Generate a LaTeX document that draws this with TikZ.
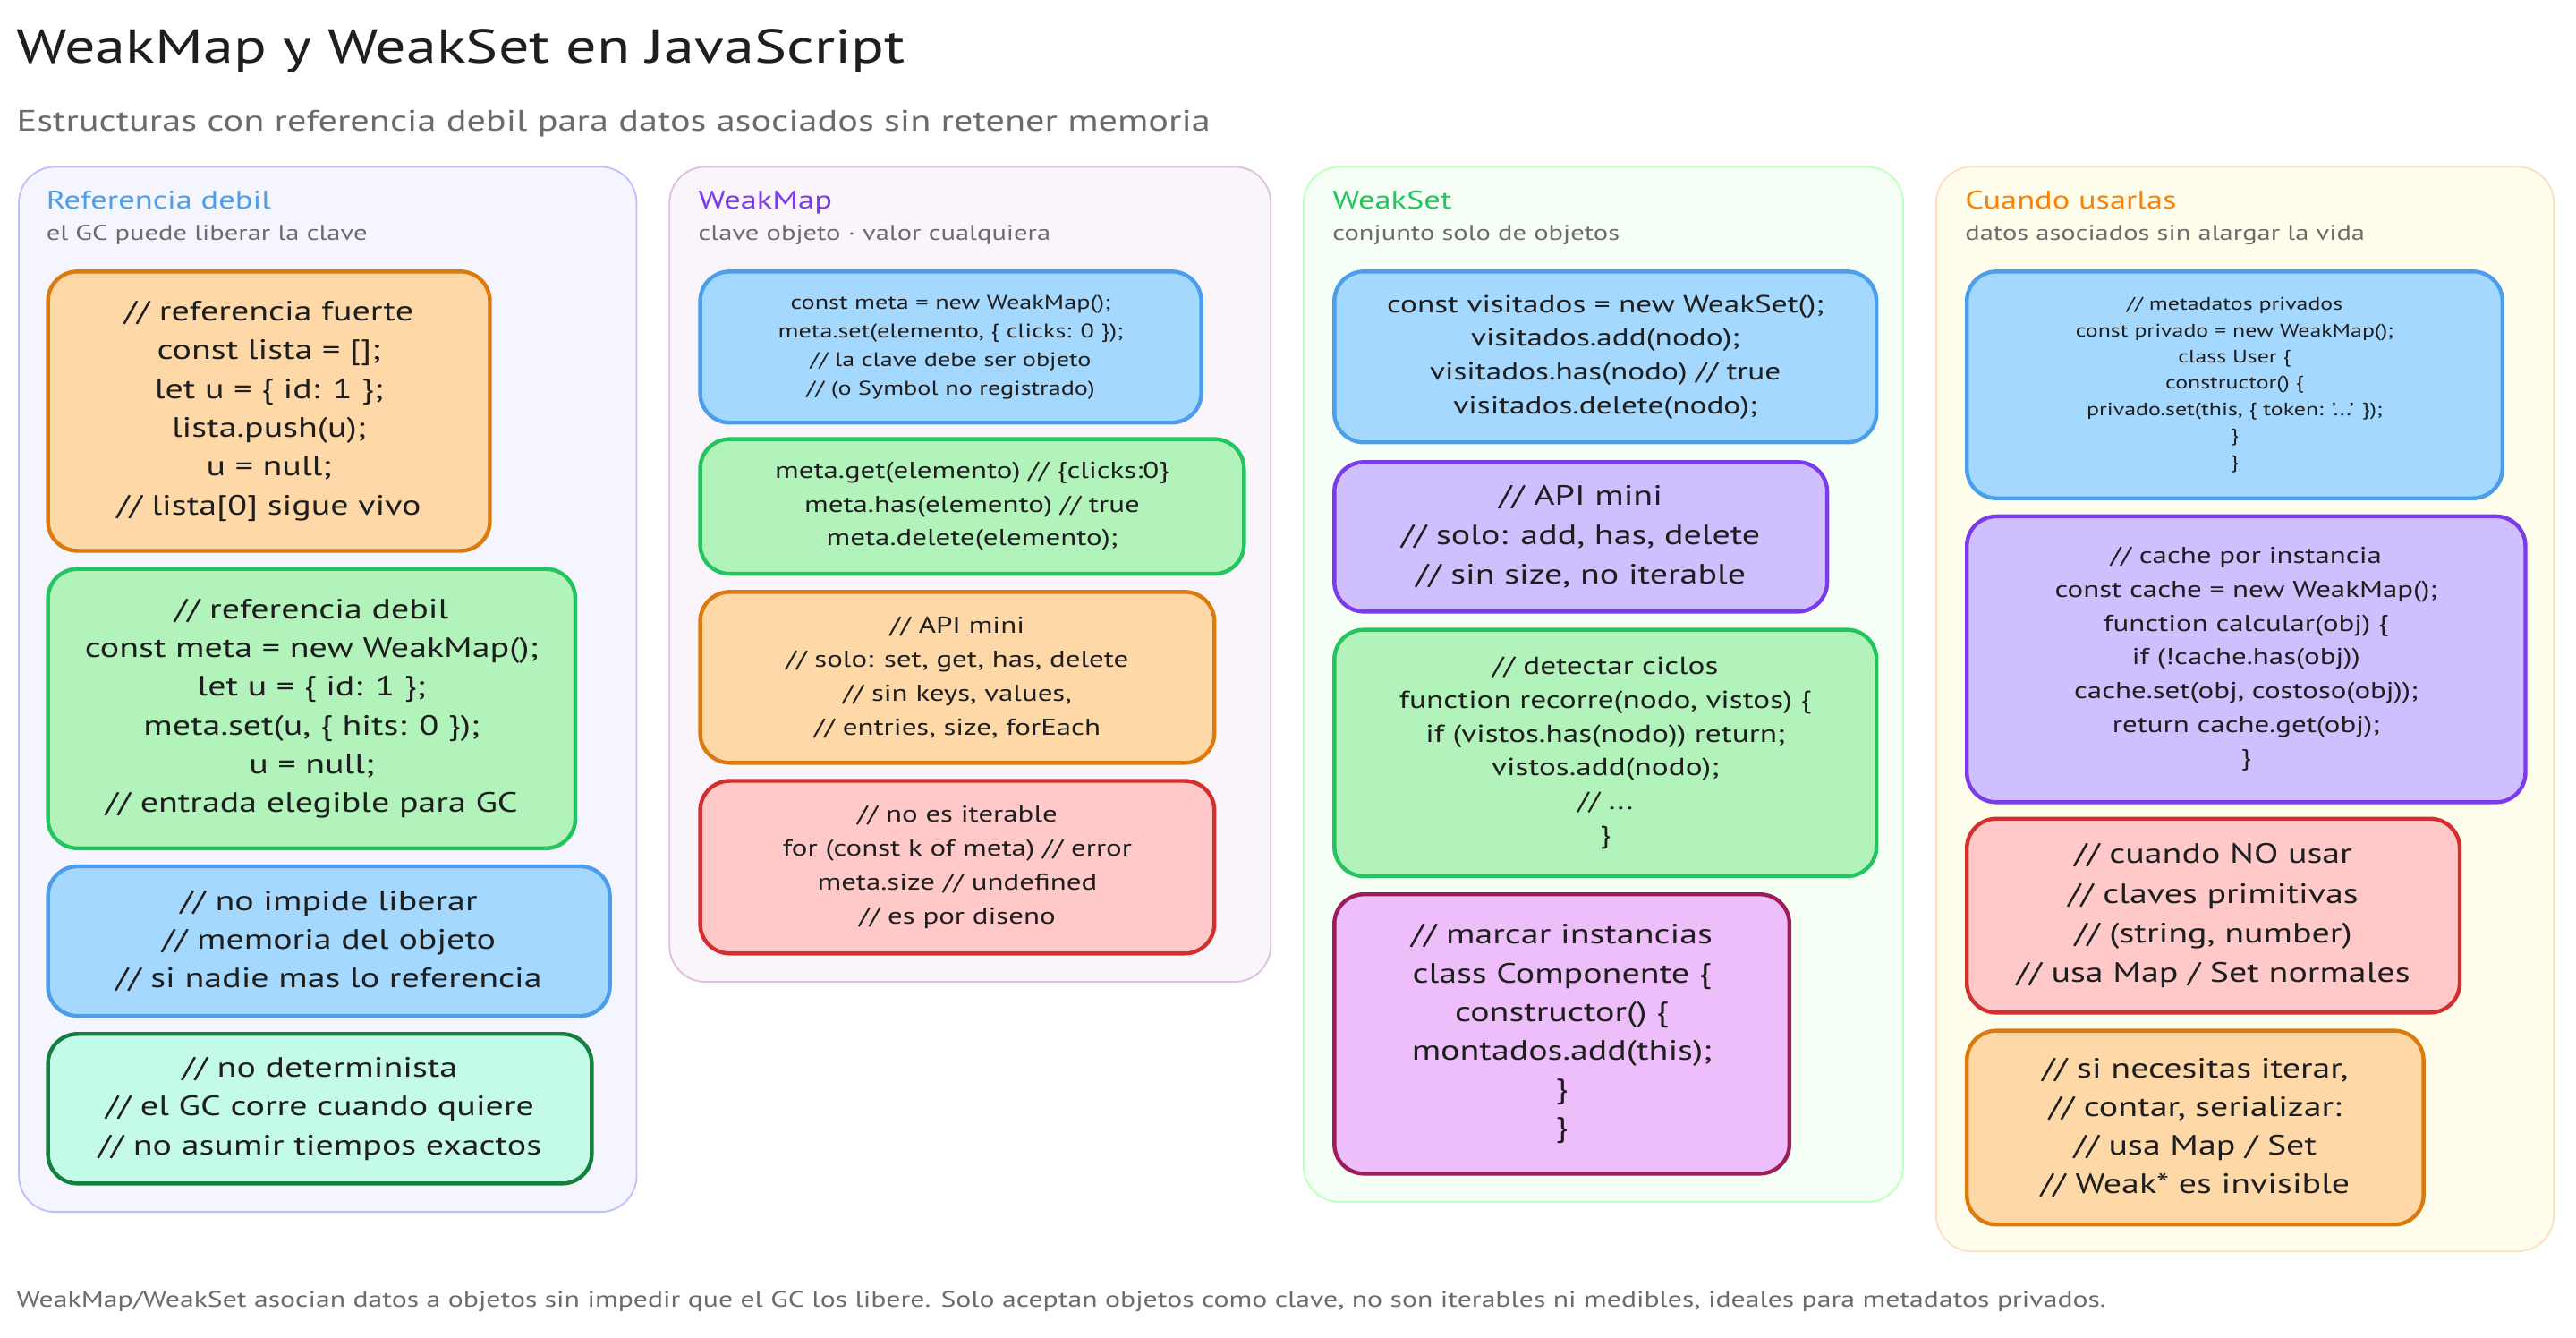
\documentclass[tikz,border=0pt]{standalone}
\usepackage{fontspec}
\setmainfont[FakeStretch=1.28]{PT Sans}
\usetikzlibrary{positioning}
\definecolor{ink}{HTML}{1E1E1E}
\definecolor{muted}{HTML}{6B6B6B}
\definecolor{bluefill}{HTML}{A5D8FF}\definecolor{blueline}{HTML}{4A9EEB}
\definecolor{greenfill}{HTML}{B2F2BB}\definecolor{greenline}{HTML}{22C55E}
\definecolor{orangefill}{HTML}{FFD8A8}\definecolor{orangeline}{HTML}{DD7A0E}
\definecolor{redfill}{HTML}{FFC9C9}\definecolor{redline}{HTML}{D32F2F}
\definecolor{purplefill}{HTML}{D0BFFF}\definecolor{purpleline}{HTML}{7C3AED}
\definecolor{mintfill}{HTML}{C3FAE8}\definecolor{mintline}{HTML}{15803D}
\definecolor{pinkfill}{HTML}{EEBEFA}\definecolor{pinkline}{HTML}{9C1C5C}
\newcommand{\fs}[2]{\fontsize{#1}{#2}\selectfont}
\tikzset{colbox/.style = {draw, rounded corners = 22pt, line width = 1pt, anchor = north west},
	card/.style = {draw, rounded corners = 18pt, line width = 2.4pt, align = center, text = ink, anchor = north west, inner sep = 0pt},
	head/.style = {anchor = base west, inner sep = 0pt, font = \fs{15.5}{18}},
	sub/.style = {anchor = west, inner sep = 0pt, text = muted, font = \fs{13}{16}}}
\begin{document}
\begin{tikzpicture}[x = 1pt, y = -1pt]
 \useasboundingbox (0,0) rectangle (1568,814);

 \node (title) at (10,31) [anchor = west, inner sep = 0pt, text = ink, font = \fs{29}{34}] {WeakMap y WeakSet en JavaScript};
 \node (subtitle) at (10,75) [anchor = west, inner sep = 0pt, text = muted, font = \fs{18}{22}] {Estructuras con referencia debil para datos asociados sin retener memoria};

 % columns
 \node (col1) at (11,101) [colbox, draw = blue!25, fill = blue!4, minimum width = 376pt, minimum height = 636pt] {};
 \node (col2) at (407,101) [colbox, draw = violet!25, fill = violet!4, minimum width = 366pt, minimum height = 496pt] {};
 \node (col3) at (793,101) [colbox, draw = green!25, fill = green!4, minimum width = 365pt, minimum height = 630pt] {};
 \node (col4) at (1178,101) [colbox, draw = orange!25, fill = yellow!7, minimum width = 376pt, minimum height = 660pt] {};

 \node (head1) at (28,127) [head, text = blueline] {Referencia debil};
 \node (sub1) at (28,143) [sub] {el GC puede liberar la clave};
 \node (head2) at (425,127) [head, text = purpleline] {WeakMap};
 \node (sub2) at (425,143) [sub] {clave objeto · valor cualquiera};
 \node (head3) at (811,127) [head, text = greenline] {WeakSet};
 \node (sub3) at (811,143) [sub] {conjunto solo de objetos};
 \node (head4) at (1196,127) [head, text = orange] {Cuando usarlas};
 \node (sub4) at (1196,143) [sub] {datos asociados sin alargar la vida};

 % column 1
 \node (strong) at (28,164) [card, draw = orangeline, fill = orangefill, minimum width = 269pt, minimum height = 170pt, font = \fs{17}{23.6}]
  {// referencia fuerte\\const lista = [];\\let u = \{ id: 1 \};\\lista.push(u);\\u = null;\\// lista[0] sigue vivo};
 \node (weak) at (28,345) [card, draw = greenline, fill = greenfill, minimum width = 321pt, minimum height = 170pt, font = \fs{17}{23.6}]
  {// referencia debil\\const meta = new WeakMap();\\let u = \{ id: 1 \};\\meta.set(u, \{ hits: 0 \});\\u = null;\\// entrada elegible para GC};
 \node (free) at (28,526) [card, draw = blueline, fill = bluefill, minimum width = 342pt, minimum height = 91pt, font = \fs{17}{23.6}]
  {// no impide liberar\\// memoria del objeto\\// si nadie mas lo referencia};
 \node (nodet) at (28,628) [card, draw = mintline, fill = mintfill, minimum width = 331pt, minimum height = 91pt, font = \fs{17}{23.6}]
  {// no determinista\\// el GC corre cuando quiere\\// no asumir tiempos exactos};

 % column 2
 \node (mapnew) at (425,164) [card, draw = blueline, fill = bluefill, minimum width = 305pt, minimum height = 92pt, font = \fs{12}{17.5}]
  {const meta = new WeakMap();\\meta.set(elemento, \{ clicks: 0 \});\\// la clave debe ser objeto\\// (o Symbol no registrado)};
 \node (mapget) at (425,266) [card, draw = greenline, fill = greenfill, minimum width = 331pt, minimum height = 82pt, font = \fs{14}{20.5}]
  {meta.get(elemento) // \{clicks:0\}\\meta.has(elemento) // true\\meta.delete(elemento);};
 \node (mapapi) at (425,359) [card, draw = orangeline, fill = orangefill, minimum width = 313pt, minimum height = 104pt, font = \fs{14}{20.7}]
  {// API mini\\// solo: set, get, has, delete\\// sin keys, values,\\// entries, size, forEach};
 \node (mapiter) at (425,474) [card, draw = redline, fill = redfill, minimum width = 313pt, minimum height = 105pt, font = \fs{14}{20.7}]
  {// no es iterable\\for (const k of meta) // error\\meta.size // undefined\\// es por diseno};

 % column 3
 \node (setnew) at (811,164) [card, draw = blueline, fill = bluefill, minimum width = 330pt, minimum height = 104pt, font = \fs{15}{20.5}]
  {const visitados = new WeakSet();\\visitados.add(nodo);\\visitados.has(nodo) // true\\visitados.delete(nodo);};
 \node (setapi) at (811,280) [card, draw = purpleline, fill = purplefill, minimum width = 300pt, minimum height = 91pt, font = \fs{17}{24}]
  {// API mini\\// solo: add, has, delete\\// sin size, no iterable};
 \node (cycles) at (811,382) [card, draw = greenline, fill = greenfill, minimum width = 330pt, minimum height = 150pt, font = \fs{15}{20.5}]
  {// detectar ciclos\\function recorre(nodo, vistos) \{\\if (vistos.has(nodo)) return;\\vistos.add(nodo);\\// ...\\\}};
 \node (mounted) at (811,543) [card, draw = pinkline, fill = pinkfill, minimum width = 277pt, minimum height = 170pt, font = \fs{17}{23.5}]
  {// marcar instancias\\class Componente \{\\constructor() \{\\montados.add(this);\\\}\\\}};

 % column 4
 \node (private) at (1196,164) [card, draw = blueline, fill = bluefill, minimum width = 326pt, minimum height = 138pt, font = \fs{11}{16}]
  {// metadatos privados\\const privado = new WeakMap();\\class User \{\\constructor() \{\\privado.set(this, \{ token: '...' \});\\\}\\\}};
 \node (cache) at (1196,313) [card, draw = purpleline, fill = purplefill, minimum width = 340pt, minimum height = 174pt, font = \fs{14}{20.5}]
  {// cache por instancia\\const cache = new WeakMap();\\function calcular(obj) \{\\if (!cache.has(obj))\\cache.set(obj, costoso(obj));\\return cache.get(obj);\\\}};
 \node (notuse) at (1196,497) [card, draw = redline, fill = redfill, minimum width = 300pt, minimum height = 118pt, font = \fs{17}{24}]
  {// cuando NO usar\\// claves primitivas\\// (string, number)\\// usa Map / Set normales};
 \node (iterate) at (1196,626) [card, draw = orangeline, fill = orangefill, minimum width = 278pt, minimum height = 118pt, font = \fs{17}{23.5}]
  {// si necesitas iterar,\\// contar, serializar:\\// usa Map / Set\\// Weak* es invisible};

 \node (footer) at (10,792) [anchor = west, inner sep = 0pt, text = muted, font = \fs{13.5}{16}]
  {WeakMap/WeakSet asocian datos a objetos sin impedir que el GC los libere. Solo aceptan objetos como clave, no son iterables ni medibles, ideales para metadatos privados.};
\end{tikzpicture}
\end{document}
